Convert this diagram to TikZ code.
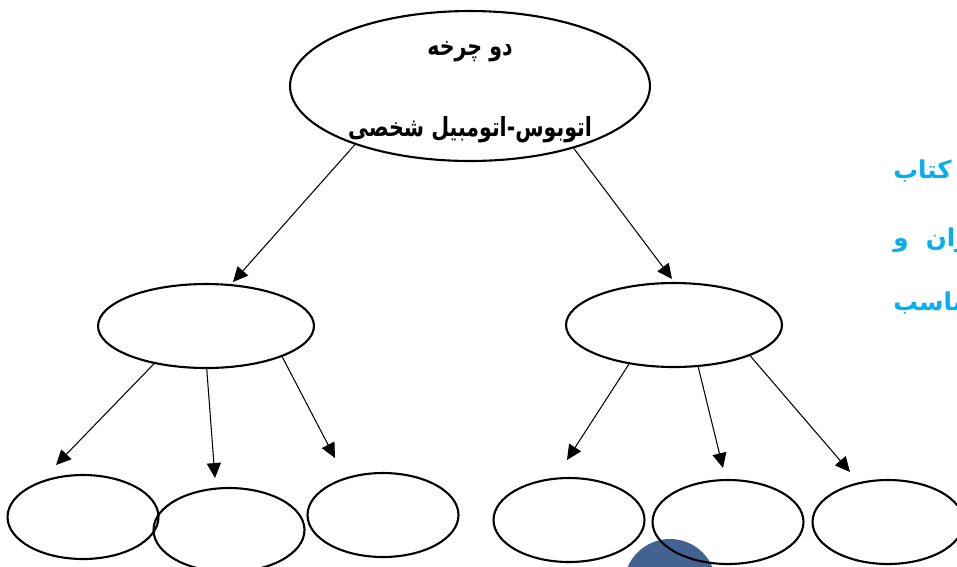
\documentclass[tikz,border=0pt]{standalone}
\usepackage{fontspec}
\newfontfamily\arabicfont[Script=Arabic]{DejaVu Sans}
\newfontfamily\titlefont[Script=Arabic, FakeStretch=0.78]{DejaVu Sans}
\TeXXeTstate=1
\definecolor{noteblue}{RGB}{0,176,240}
\definecolor{dotblue}{RGB}{66,99,145}
\usetikzlibrary{shapes.geometric, arrows.meta}

\begin{document}
\begin{tikzpicture}[
                x=0.02cm, y=-0.02cm,
                every node/.style={align=center},
                root/.style={ellipse, draw, line width=1.2pt, inner xsep=0pt, inner ysep=-8pt, minimum width=7.2cm, minimum height=3cm, font=\titlefont\bfseries\fontsize{15}{18}\selectfont},
                branch/.style={ellipse, draw, line width=1.2pt, inner sep=0pt, minimum width=4.32cm, minimum height=1.68cm},
                leaf/.style={ellipse, draw, line width=1.2pt, inner sep=0pt, minimum width=3.02cm, minimum height=1.68cm},
                link/.style={-{Triangle[length=8.5pt, width=8pt]}, line width=0.6pt},
                note/.style={anchor=west, text=noteblue, inner sep=0pt, font=\arabicfont\bfseries\fontsize{14}{16}\selectfont}
            ]
                \clip (0,0) rectangle (957,566);
                \fill[dotblue] (670,585) circle[radius=0.92cm];

                \node[root] (top) at (470,86) {\rule{0pt}{15pt}\beginR دو چرخه\endR\\[28pt]\beginR اتوبوس-اتومبیل شخصی\endR};

                \node[branch] (left) at (206,326) {};
                \node[branch] (right) at (674,325) {};

                \node[leaf] (l1) at (83,517) {};
                \node[leaf] (l2) at (229,530) {};
                \node[leaf] (l3) at (383,515) {};
                \node[leaf] (r1) at (569,520) {};
                \node[leaf] (r2) at (728,522) {};
                \node[leaf] (r3) at (888,522) {};

                \coordinate (tipA) at (233,282);
                \coordinate (tipB) at (672,279);
                \coordinate (tipL1) at (56,465);
                \coordinate (tipL2) at (215,478);
                \coordinate (tipL3) at (335,458);
                \coordinate (tipR1) at (567,460);
                \coordinate (tipR2) at (723,468);
                \coordinate (tipR3) at (850,472);

                \draw[link] (top.207) -- (tipA);
                \draw[link] (top.329) -- (tipB);
                \draw[link] (left.216) -- (tipL1);
                \draw[link] (left.271) -- (tipL2);
                \draw[link] (left.338) -- (tipL3);
                \draw[link] (right.221) -- (tipR1);
                \draw[link] (right.300) -- (tipR2);
                \draw[link] (right.338) -- (tipR3);

                \node[note] (n1) at (893,171) {\beginR کتاب\endR};
                \node[note] (n2) at (893,240) {\beginR عنوان\ \ و\endR};
                \node[note] (n3) at (893,303) {\beginR مناسب\endR};
            \end{tikzpicture}
\end{document}
